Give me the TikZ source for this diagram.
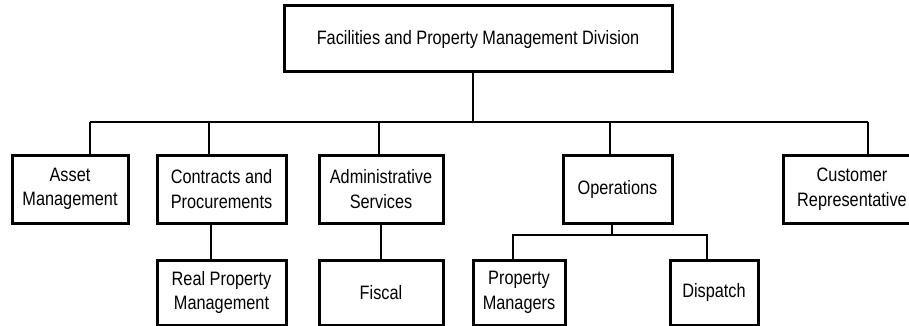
\documentclass[tikz,border=0pt]{standalone}
\usepackage{fontspec}
\setmainfont[FakeStretch=0.84]{Liberation Sans}
\usetikzlibrary{positioning,calc}

\begin{document}
\begin{tikzpicture}[
  x=1pt, y=-1pt,
  font=\fontsize{19.4}{24.5}\selectfont,
  unit/.style={draw, line width=3pt, align=center, inner sep=0pt,
               minimum height=68pt},
  sub/.style={unit, minimum height=65pt},
  link/.style={line width=1.3pt}]

\useasboundingbox (0,0) rectangle (909,326);

% ---- division ----
\node[unit, minimum width=388pt, minimum height=66pt] (div) at (478,39)
  {Facilities and Property Management Division};

% ---- first level ----
\node[unit, minimum width=116pt] (asset) at (70,189) {Asset\\Management};
\node[unit, minimum width=129pt] (contr) at (221.5,189) {Contracts and\\Procurements};
\node[unit, minimum width=124pt] (admin) at (381,189) {Administrative\\Services};
\node[unit, minimum width=109pt] (oper) at (617.5,189) {Operations};
\node[unit, minimum width=138pt] (cust) at (852,189) {Customer\\Representative};

% ---- second level ----
\node[sub, minimum width=129pt] (realprop) at (221.5,292.5) {Real Property\\Management};
\node[sub, minimum width=124pt] (fiscal) at (381,292.5) {Fiscal};
\node[sub, minimum width=92pt] (propmgr) at (519,292.5) {Property\\Managers};
\node[sub, minimum width=88pt] (dispatch) at (714,292.5) {Dispatch};

% ---- connectors ----
\coordinate (bus) at (473,122);
\coordinate (busL) at (90,122);
\coordinate (busR) at (868,122);
\draw[link] (div.south -| bus) -- (bus);
\draw[link] (busL) -- (busR);
\foreach \n/\x in {asset/90, contr/209, admin/379, oper/610, cust/868}
  \draw[link] (bus -| \x,0) -- (\n.north -| \x,0);

\draw[link] (contr.south -| 211,0) -- (realprop.north -| 211,0);
\draw[link] (admin.south) -- (fiscal.north);

\coordinate (opbus) at (612,235);
\draw[link] (oper.south -| opbus) -- (opbus);
\draw[link] (propmgr.north -| 513,0) |- (opbus) -| (dispatch.north -| 707,0);
\end{tikzpicture}
\end{document}
